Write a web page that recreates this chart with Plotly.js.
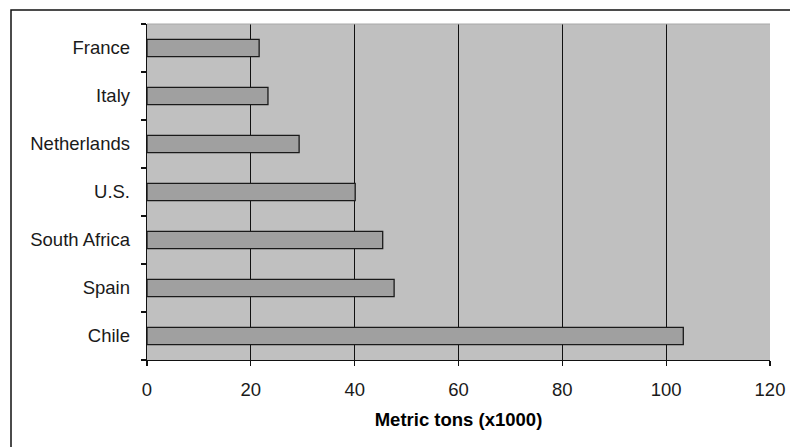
<!DOCTYPE html>
<html><head><meta charset="utf-8">
<script src="https://cdn.plot.ly/plotly-3.0.1.min.js"></script>
<style>html,body{margin:0;padding:0;background:#fff;}</style>
</head><body>
<div id="chart" style="width:790px;height:447px;"></div>
<script>
const countries = ["Chile", "Spain", "South Africa", "U.S.", "Netherlands", "Italy", "France"];
const tons = [103.3, 47.6, 45.4, 40.1, 29.3, 23.3, 21.6];
const xTicks = [0, 20, 40, 60, 80, 100, 120];
const xTitle = "Metric tons (x1000)";

const trace = {
  type: "bar", orientation: "h",
  y: countries, x: tons, width: 0.36,
  marker: {color: "#a0a0a0", line: {color: "#1a1a1a", width: 1.3}},
  hoverinfo: "none"
};
const layout = {
  width: 790, height: 447,
  margin: {l: 147, r: 20, t: 24, b: 87},
  paper_bgcolor: "#ffffff", plot_bgcolor: "#c0c0c0",
  showlegend: false,
  font: {family: "Liberation Sans, Arial, sans-serif", size: 18.5, color: "#1a1a1a"},
  xaxis: {
    range: [0, 120], tickvals: xTicks, ticktext: xTicks.map(String),
    showgrid: true, gridcolor: "#111", gridwidth: 1.3,
    zeroline: false, showline: true, linecolor: "#111", linewidth: 1.3,
    ticks: "outside", ticklen: 5, tickcolor: "#111", tickwidth: 1.3,
    ticklabelstandoff: 7,
    title: {text: "<b>" + xTitle + "</b>", font: {size: 18.5, color: "#000"}, standoff: 14}
  },
  yaxis: {
    type: "category", categoryorder: "array", categoryarray: countries,
    showline: true, linecolor: "#111", linewidth: 1.3,
    ticks: "outside", ticklen: 5, tickcolor: "#111", tickwidth: 1.3,
    tickson: "boundaries", showgrid: false, ticklabelstandoff: 12
  },
  shapes: [
    {type: "rect", xref: "paper", yref: "paper",
     x0: (11 - 147) / 623, x1: (800 - 147) / 623,
     y0: (360 - 460) / 336, y1: (360 - 10) / 336,
     line: {color: "#111", width: 1.5}, layer: "below"},
    {type: "line", xref: "paper", yref: "paper", x0: 0, x1: 1, y0: 1, y1: 1,
     line: {color: "#a8a8a8", width: 1}}
  ]
};
Plotly.newPlot("chart", [trace], layout, {staticPlot: true, displayModeBar: false});
</script>
</body></html>
